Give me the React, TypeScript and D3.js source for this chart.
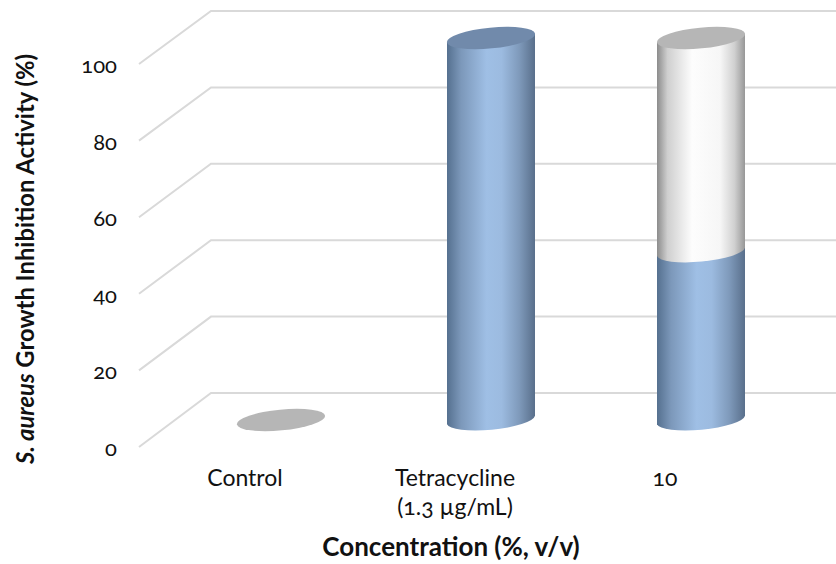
import React from "react";
import * as d3 from "d3";

const categories = ["Control", "Tetracycline", "10"];
const categorySecondLine = ["", "(1.3 µg/mL)", ""];
const blueValues = [0, 100, 44];
const whiteValues: (number | null)[] = [0, null, 56];
const yTicks = [0, 20, 40, 60, 80, 100];

const W = 836, H = 564;
const font = "Lato, 'Open Sans', sans-serif";

export default function App() {
  const yFront = d3.scaleLinear().domain([0, 100]).range([447, 64]);
  const yBack = d3.scaleLinear().domain([0, 100]).range([393, 11]);
  const yBar = d3.scaleLinear().domain([0, 100]).range([420, 38]);
  const xBar = d3.scalePoint<string>().domain(categories).range([281, 701]);
  const xLabel = d3.scalePoint<string>().domain(categories).range([245, 665]);
  const xF = 139, xB = 211;

  const rx = 44.3, ry = 10.4, rot = -5.5;
  const dy = 4.2; // vertical offset of ellipse extremes
  const cyl = (cx: number, yBottom: number, yTop: number) =>
    `M${cx - 44},${yTop + dy} L${cx + 44},${yTop - dy} L${cx + 44},${yBottom - dy} A${rx},${ry} ${rot} 0 1 ${cx - 44},${yBottom + dy} Z`;

  return (
    <svg width={W} height={H} viewBox={`0 0 ${W} ${H}`} style={{ position: "absolute", left: 0, top: 0, background: "#fff" }}>
      <defs>
        <linearGradient id="blue" x1="0" x2="1" y1="0" y2="0">
          <stop offset="0" stopColor="#55708f" />
          <stop offset="0.16" stopColor="#7c98ba" />
          <stop offset="0.45" stopColor="#9fbfe5" />
          <stop offset="0.62" stopColor="#9cbbe0" />
          <stop offset="0.82" stopColor="#7f9abb" />
          <stop offset="1" stopColor="#596f8b" />
        </linearGradient>
        <linearGradient id="white" x1="0" x2="1" y1="0" y2="0">
          <stop offset="0" stopColor="#8c8c8c" />
          <stop offset="0.12" stopColor="#cfcfcf" />
          <stop offset="0.4" stopColor="#fdfdfd" />
          <stop offset="0.72" stopColor="#f6f6f6" />
          <stop offset="0.88" stopColor="#d0d0d0" />
          <stop offset="1" stopColor="#979797" />
        </linearGradient>
      </defs>

      {yTicks.map((t) => (
        <polyline key={t} fill="none" stroke="#d9d9d9" strokeWidth={2}
          points={`${xF},${yFront(t)} ${xB},${yBack(t)} ${W},${yBack(t)}`} />
      ))}

      {yTicks.map((t) => (
        <text key={t} x={117} y={yFront(t) + 9} textAnchor="end" fontFamily={font}
          fontSize={22} fill="#111" style={{ fontFeatureSettings: "'onum'" }}>{t}</text>
      ))}

      {categories.map((c, i) => {
        const cx = xBar(c)!;
        const b = blueValues[i], w = whiteValues[i];
        const yb0 = yBar(0), yb1 = yBar(b);
        const topV = b + (w ?? 0);
        return (
          <g key={c}>
            {b > 0 && <path d={cyl(cx, yb0, yb1)} fill="url(#blue)" />}
            {w !== null && w > 0 && <path d={cyl(cx, yb1, yBar(topV))} fill="url(#white)" />}
            <ellipse cx={0} cy={0} rx={rx} ry={ry}
              transform={`translate(${cx},${yBar(topV)}) rotate(${rot})`}
              fill={w === null ? "#718aab" : "#b6b6b6"} />
          </g>
        );
      })}

      {categories.map((c, i) => (
        <g key={c} fontFamily={font} fontSize={23} fill="#111" textAnchor="middle">
          <text x={xLabel(c)} y={486} style={{ fontFeatureSettings: "'onum'" }}>{c}</text>
          {categorySecondLine[i] && <text x={xLabel(c)} y={515} style={{ fontFeatureSettings: "'onum'" }}>{categorySecondLine[i]}</text>}
        </g>
      ))}

      <text x={451} y={556} textAnchor="middle" fontFamily={font} fontWeight={700} fontSize={26} fill="#111">
        Concentration (%, v/v)
      </text>
      <text transform="translate(34,259) rotate(-90)" textAnchor="middle" fontFamily={font} fontWeight={700} fontSize={23.8} fill="#111">
        <tspan fontStyle="italic">S. aureus</tspan> Growth Inhibition Activity (%)
      </text>
    </svg>
  );
}
